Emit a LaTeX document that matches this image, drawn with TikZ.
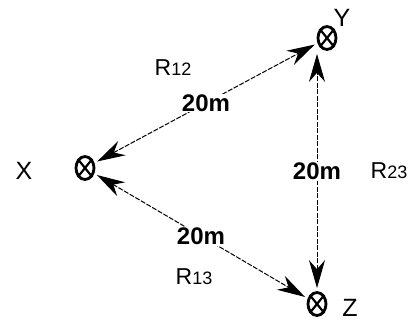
\documentclass[tikz,border=0pt]{standalone}
\usepackage{fontspec}
\setmainfont{Liberation Sans}
\usetikzlibrary{shapes.geometric,arrows.meta}

\newcommand{\rname}[1]{R{\fontsize{18}{18}\selectfont #1}}

\begin{document}
\begin{tikzpicture}[x=1pt, y=-1pt,
	site/.style={ellipse, draw, line width=2.8pt, minimum width=18pt, minimum height=23pt, inner sep=0pt},
	link/.style={dash pattern=on 5pt off 1.5pt, line width=1pt, shorten <=3pt, shorten >=3pt,
		{Stealth[length=28pt,width=16pt]}-{Stealth[length=28pt,width=16pt]}},
	dist/.style={fill=white, inner sep=1pt, font=\bfseries\fontsize{24}{24}\selectfont},
	rlab/.style={font=\fontsize{23}{23}\selectfont},
	sitelabel/.style={font=\fontsize{25}{25}\selectfont}]
	\useasboundingbox (0,0) rectangle (413,322);
	%\draw[help lines, step=20] (0,0) grid (413,322);
	
	% receiver sites
	\foreach \n\x\y in {X/85/168, Y/327/38, Z/317/304}
	{
		\node[site] (s\n) at (\x,\y) {};
		\draw[line width=2.2pt] (s\n.north east) -- (s\n.south west) (s\n.north west) -- (s\n.south east);
	}
	
	\foreach \n\x\y in {X/24/171, Y/342/18, Z/350/308}
	\node[sitelabel] (l\n) at (\x,\y) {\n};
	
	% distances
	\draw[link] (sX) -- node[dist] (d12) {20m} (sY);
	\draw[link] (sX) -- node[dist] (d13) {20m} (sZ);
	\draw[link] (sZ) -- node[dist] (d23) {20m} (sZ |- sY.south);
	
	\node[rlab] (r12) at (173,68) {\rname{12}};
	\node[rlab] (r13) at (194,277) {\rname{13}};
	\node[rlab] (r23) at (389,171) {\rname{23}};
\end{tikzpicture}
\end{document}
